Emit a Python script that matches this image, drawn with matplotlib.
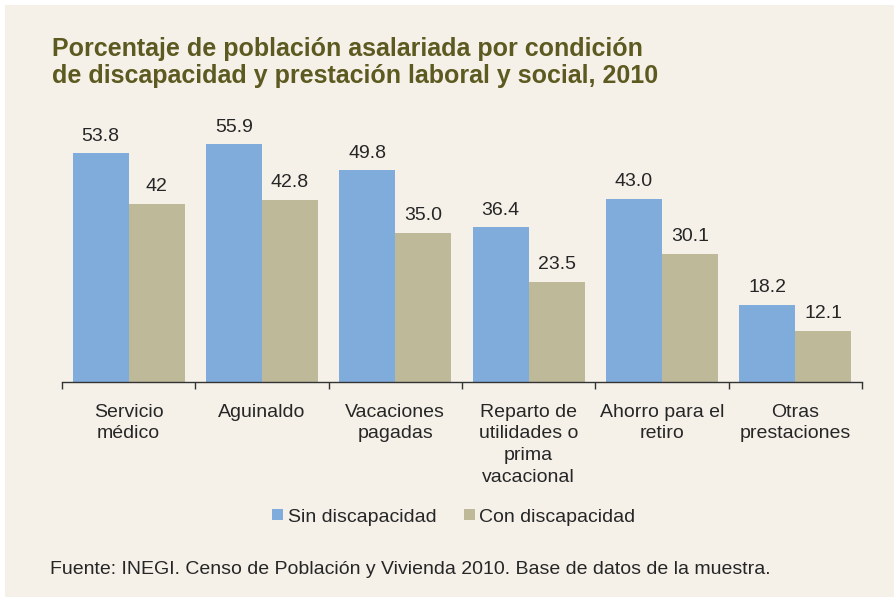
import matplotlib
matplotlib.use("Agg")
import matplotlib.pyplot as plt
from matplotlib.patches import Rectangle
import numpy as np

categories = ["Servicio\nmédico", "Aguinaldo", "Vacaciones\npagadas",
              "Reparto de\nutilidades o\nprima\nvacacional", "Ahorro para el\nretiro",
              "Otras\nprestaciones"]
sin_disc = [53.8, 55.9, 49.8, 36.4, 43.0, 18.2]
con_disc = [42.0, 42.8, 35.0, 23.5, 30.1, 12.1]
sin_labels = ["53.8", "55.9", "49.8", "36.4", "43.0", "18.2"]
con_labels = ["42", "42.8", "35.0", "23.5", "30.1", "12.1"]

plt.rcParams['font.family'] = ['Liberation Sans', 'DejaVu Sans']

W, H = 894, 599
fig = plt.figure(figsize=(W / 100, H / 100), dpi=100, facecolor="white")
bg = "#F5F1E9"
fig.patches.append(Rectangle((5 / W, 2 / H), 1 - 5 / W, 1 - 7 / H, transform=fig.transFigure,
                             facecolor=bg, edgecolor="none", zorder=-10))

# axes: x 62..862, y baseline 382, top 127 (ylim 60)
ax = fig.add_axes([62 / W, 1 - 382 / H, 800 / W, 255 / H])
ax.set_facecolor("none")
x = np.arange(len(categories))
bw = 0.42
blue = "#80ACDC"
tan = "#BDB999"
txtc = "#262626"
b1 = ax.bar(x - bw / 2, sin_disc, bw, color=blue, label="Sin discapacidad")
b2 = ax.bar(x + bw / 2, con_disc, bw, color=tan, label="Con discapacidad")
for rect, lab in zip(b1, sin_labels):
    ax.text(rect.get_x() + rect.get_width() / 2, rect.get_height() + 3.0, lab,
            ha="center", va="baseline", fontsize=14, color=txtc)
for rect, lab in zip(b2, con_labels):
    ax.text(rect.get_x() + rect.get_width() / 2, rect.get_height() + 3.0, lab,
            ha="center", va="baseline", fontsize=14, color=txtc)

ax.set_xlim(-0.5, len(categories) - 0.5)
ax.set_ylim(0, 60)
for s in ["top", "right", "left"]:
    ax.spines[s].set_visible(False)
ax.spines["bottom"].set_color("#333333")
ax.spines["bottom"].set_linewidth(1.0)
ax.set_yticks([])
ax.set_xticks(np.arange(-0.5, len(categories), 1.0))
ax.set_xticklabels([])
ax.tick_params(axis="x", which="major", length=5, color="#333333", width=1.0)
ax.set_xticks(x, minor=True)
ax.set_xticklabels(categories, minor=True, fontsize=14, color=txtc, linespacing=1.37)
ax.tick_params(axis="x", which="minor", length=0, pad=15.5)

fig.text(52 / W, 1 - 83 / H, "Porcentaje de población asalariada por condición\nde discapacidad y prestación laboral y social, 2010",
         fontsize=18, fontweight="bold", color="#5C5A20", ha="left", va="baseline", linespacing=1.17)

leg = fig.legend(handles=[b1, b2], loc="center", bbox_to_anchor=(454 / W, 1 - 517 / H),
                 ncol=2, frameon=False, fontsize=14, handlelength=0.55, handleheight=0.55,
                 handletextpad=0.25, columnspacing=1.4)
for t in leg.get_texts():
    t.set_color(txtc)

fig.text(50 / W, 1 - 574 / H, "Fuente: INEGI. Censo de Población y Vivienda 2010. Base de datos de la muestra.",
         fontsize=14, color=txtc, ha="left", va="baseline")

fig.savefig("out.png", dpi=100, facecolor="white")
